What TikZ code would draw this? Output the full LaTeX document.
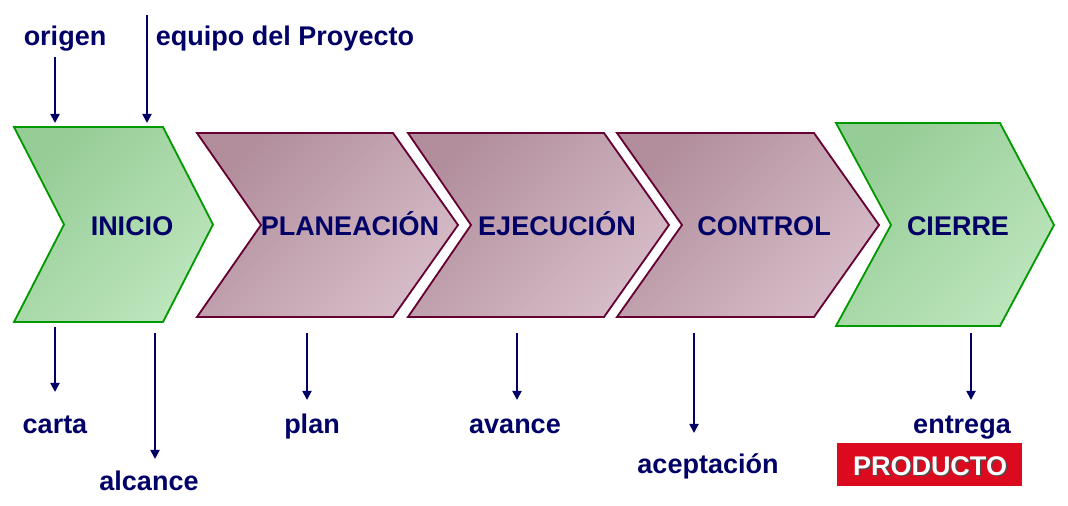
\documentclass[tikz,border=0pt]{standalone}
\usepackage{fontspec}
\setmainfont{Liberation Sans}
\usepackage{xcolor}
\usetikzlibrary{arrows.meta}
\definecolor{azul}{RGB}{0,0,102}
\definecolor{verdeborde}{RGB}{0,153,0}
\definecolor{verdeA}{RGB}{150,204,150}
\definecolor{verdeB}{RGB}{188,229,188}
\definecolor{moradoborde}{RGB}{102,0,51}
\definecolor{moradoA}{RGB}{178,142,156}
\definecolor{moradoB}{RGB}{214,188,200}
\definecolor{rojo}{RGB}{220,10,30}

\begin{document}
\begin{tikzpicture}[x=0.025cm, y=-0.025cm,
  texto/.style={font=\fontsize{19.2}{22}\selectfont\bfseries, text=azul, anchor=base, inner sep=0pt},
  flecha/.style={draw=azul, line width=1.3pt, -{Triangle[width=6.5pt,length=6.5pt]}},
  verde/.style={draw=verdeborde, line width=1.3pt, top color=verdeA, bottom color=verdeB, shading angle=45},
  morado/.style={draw=moradoborde, line width=1.3pt, top color=moradoA, bottom color=moradoB, shading angle=45}]
  \useasboundingbox (0,0) rectangle (1068,506);

  % fases
  \shadedraw[verde]  (14,127) -- (163,127) -- (213,224.5) -- (163,322) -- (14,322) -- (64,224.5) -- cycle;
  \shadedraw[morado] (197,133) -- (393,133) -- (458,225) -- (393,317) -- (197,317) -- (261,225) -- cycle;
  \shadedraw[morado] (408,133) -- (604,133) -- (669,225) -- (604,317) -- (408,317) -- (471,225) -- cycle;
  \shadedraw[morado] (617,133) -- (814,133) -- (879,225) -- (814,317) -- (617,317) -- (682,225) -- cycle;
  \shadedraw[verde]  (836,123) -- (1000,123) -- (1054,225) -- (1000,326) -- (836,326) -- (891,225) -- cycle;

  \node[texto] (inicio)  at (132,235) {INICIO};
  \node[texto] (planea)  at (350,235) {PLANEACIÓN};
  \node[texto] (ejecuta) at (557,235) {EJECUCIÓN};
  \node[texto] (control) at (764,235) {CONTROL};
  \node[texto] (cierre)  at (958,235) {CIERRE};

  % entradas
  \node[texto] (origen) at (65,46) {origen};
  \node[texto] (equipo) at (285,46) {equipo del Proyecto};
  \coordinate (o1) at (55,57);  \coordinate (o2) at (55,123);
  \coordinate (e1) at (147,15); \coordinate (e2) at (147,123);
  \draw[flecha] (o1) -- (o2);
  \draw[flecha] (e1) -- (e2);

  % salidas
  \node[texto] (carta)      at (55,433)  {carta};
  \node[texto] (alcance)    at (149,490) {alcance};
  \node[texto] (plan)       at (312,433) {plan};
  \node[texto] (avance)     at (515,433) {avance};
  \node[texto] (aceptacion) at (708,473) {aceptación};
  \node[texto] (entrega)    at (962,433) {entrega};
  \coordinate (c1) at (55,327);  \coordinate (c2) at (55,392);
  \coordinate (a1) at (155,333); \coordinate (a2) at (155,459);
  \coordinate (p1) at (307,333); \coordinate (p2) at (307,400);
  \coordinate (v1) at (517,333); \coordinate (v2) at (517,400);
  \coordinate (k1) at (694,333); \coordinate (k2) at (694,433);
  \coordinate (n1) at (971,333); \coordinate (n2) at (971,400);
  \draw[flecha] (c1) -- (c2);
  \draw[flecha] (a1) -- (a2);
  \draw[flecha] (p1) -- (p2);
  \draw[flecha] (v1) -- (v2);
  \draw[flecha] (k1) -- (k2);
  \draw[flecha] (n1) -- (n2);

  % producto
  \node[fill=rojo, minimum width=4.625cm, minimum height=1.075cm, inner sep=0pt] (producto) at (929.5,464.5) {};
  \node[texto, text=black!70] at (931.5,476.5) {PRODUCTO};
  \node[texto, text=white] (productotxt) at (930,475) {PRODUCTO};
\end{tikzpicture}
\end{document}
